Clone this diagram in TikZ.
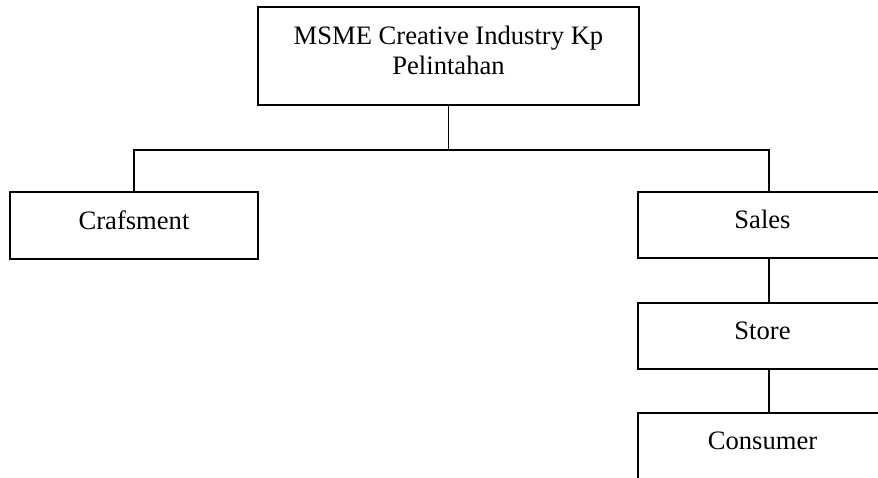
\documentclass[tikz,border=0pt]{standalone}
\usepackage{fontspec}
\setmainfont{Liberation Serif}
\usetikzlibrary{positioning,calc}

\begin{document}
\begin{tikzpicture}[
  x=0.5pt, y=-0.5pt,
  font=\fontsize{13.3}{15}\selectfont,
  orgbox/.style={draw, line width=0.75pt, minimum width=124.5pt,
    minimum height=33pt, inner sep=0pt, align=center, text depth=5.5pt},
  link/.style={line width=0.75pt}
]

\useasboundingbox (0,0) rectangle (878,477);
\clip (0,0) rectangle (878,477);

\node[orgbox, minimum width=190.5pt, minimum height=49pt] (top) at (448.5,56)
  {MSME Creative Industry Kp\\Pelintahan};

\node[orgbox, minimum width=124pt, minimum height=33.5pt] (craf) at (134,225.5) {Crafsment};
\node[orgbox] (sales) at (762.5,225) {Sales};
\node[orgbox] (store) at (762.5,336) {Store};
\node[orgbox] (consumer) at (762.5,446) {Consumer};

\coordinate (split) at ($(top.south)+(0,44)$);
\draw[link] (top.south) -- (split);
\draw[link] (craf.north) |- (split);
\draw[link] (split) -| ([xshift=3.25pt]sales.north);
\draw[link] ([xshift=3.25pt]sales.south) -- ([xshift=3.25pt]store.north);
\draw[link] ([xshift=3.25pt]store.south) -- ([xshift=3.25pt]consumer.north);

\end{tikzpicture}
\end{document}
